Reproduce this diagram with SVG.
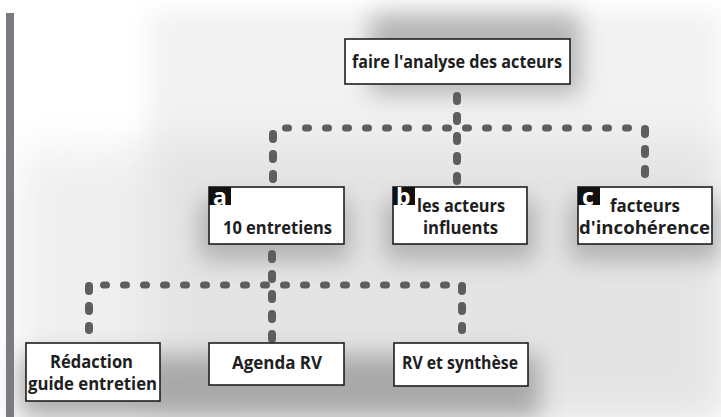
<svg xmlns="http://www.w3.org/2000/svg" width="721" height="417" viewBox="0 0 721 417">
<defs>
<filter id="blur" x="-50%" y="-50%" width="200%" height="200%"><feGaussianBlur stdDeviation="12"/></filter>
<filter id="blur2" x="-50%" y="-50%" width="200%" height="200%"><feGaussianBlur stdDeviation="22"/></filter>
<style>
.box{fill:#fff;stroke:#1e1e1e;stroke-width:1.6}
.t{font-family:"Open Sans","Noto Sans","DejaVu Sans",sans-serif;font-weight:700;font-size:18px;fill:#1e1e1e;text-anchor:middle}
.lab{fill:#111}
.lt{font-family:"Open Sans","Noto Sans","DejaVu Sans",sans-serif;font-weight:700;font-size:23px;fill:#fff}
.h{fill:none;stroke:#5e5e5e;stroke-width:7;stroke-linecap:round;stroke-dasharray:3 17}
.v{fill:none;stroke:#5e5e5e;stroke-width:8;stroke-linecap:round;stroke-dasharray:5 15}
.sh{fill:#9a9a9a}
</style>
</defs>
<rect width="721" height="417" fill="#fff"/>
<g id="background">
<rect x="150" y="12" width="571" height="405" fill="#f2f2f2" filter="url(#blur)"/>
<rect x="20" y="150" width="200" height="267" fill="#efefef" filter="url(#blur2)"/>
<rect x="150" y="140" width="571" height="277" fill="#e4e4e4" filter="url(#blur2)"/>
<rect x="370" y="14" width="210" height="80" class="sh" filter="url(#blur)" opacity="0.7"/>
<rect x="200" y="200" width="150" height="60" class="sh" filter="url(#blur)" opacity="0.7"/>
<rect x="385" y="200" width="150" height="60" class="sh" filter="url(#blur)" opacity="0.7"/>
<rect x="570" y="200" width="150" height="60" class="sh" filter="url(#blur)" opacity="0.7"/>
<rect x="20" y="355" width="520" height="62" class="sh" filter="url(#blur)" opacity="0.8"/>
</g>
<rect x="6" y="13" width="8" height="404" fill="#7b7c80"/>
<g id="connectors">
<path class="v" d="M457 96 V182"/>
<path class="h" d="M285.5 128 H634"/>
<path class="v" d="M273 134 V182"/>
<path class="v" d="M645 129 V176"/>
<path class="v" d="M272 254 V340"/>
<path class="h" d="M103.5 285 H452"/>
<path class="v" d="M89 286 V330"/>
<path class="v" d="M462 286 V330"/>
</g>
<g id="n-root">
<rect class="box" x="345" y="39" width="225" height="45"/>
<text class="t" x="457" y="68" textLength="210" lengthAdjust="spacingAndGlyphs">faire l'analyse des acteurs</text>
</g>
<g id="n-a">
<rect class="box" x="209" y="187" width="135" height="57"/>
<rect class="lab" x="209" y="187" width="22" height="18"/>
<text class="lt" x="213" y="205">a</text>
<text class="t" x="277.5" y="234" textLength="109" lengthAdjust="spacingAndGlyphs">10 entretiens</text>
</g>
<g id="n-b">
<rect class="box" x="393" y="187" width="134" height="57"/>
<rect class="lab" x="393" y="187" width="22" height="18"/>
<text class="lt" x="396" y="205">b</text>
<text class="t" x="461" y="212" textLength="88" lengthAdjust="spacingAndGlyphs">les acteurs</text>
<text class="t" x="460.5" y="234" textLength="75" lengthAdjust="spacingAndGlyphs">influents</text>
</g>
<g id="n-c">
<rect class="box" x="578" y="187" width="134" height="57"/>
<rect class="lab" x="578" y="187" width="22" height="18"/>
<text class="lt" x="582" y="205">c</text>
<text class="t" x="645" y="212" textLength="70" lengthAdjust="spacingAndGlyphs">facteurs</text>
<text class="t" x="644.5" y="234" textLength="131" lengthAdjust="spacingAndGlyphs">d'incohérence</text>
</g>
<g id="n-redaction">
<rect class="box" x="26" y="343" width="134" height="58"/>
<text class="t" x="91.5" y="368" textLength="83" lengthAdjust="spacingAndGlyphs">Rédaction</text>
<text class="t" x="92.5" y="390" textLength="129" lengthAdjust="spacingAndGlyphs">guide entretien</text>
</g>
<g id="n-agenda">
<rect class="box" x="209" y="343" width="135" height="42"/>
<text class="t" x="277" y="369" textLength="90" lengthAdjust="spacingAndGlyphs">Agenda RV</text>
</g>
<g id="n-rv">
<rect class="box" x="394" y="343" width="134" height="43"/>
<text class="t" x="460" y="369" textLength="116" lengthAdjust="spacingAndGlyphs">RV et synthèse</text>
</g>
</svg>
